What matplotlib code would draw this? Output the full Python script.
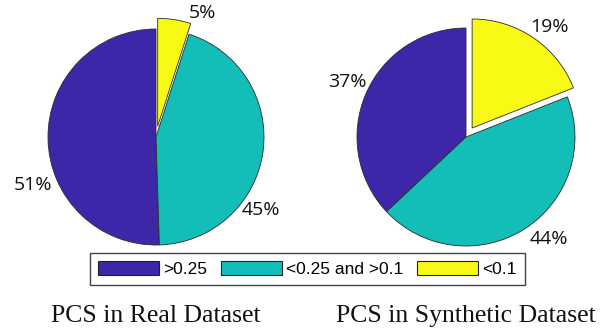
import matplotlib
matplotlib.use("Agg")
import matplotlib.pyplot as plt
from matplotlib.patches import Patch

# ---- data ----
categories = [">0.25", "<0.25 and >0.1", "<0.1"]
real_values = [51, 45, 5]
synthetic_values = [37, 44, 19]
titles = ["PCS in Real Dataset", "PCS in Synthetic Dataset"]

colors = ["#3E26A8", "#14BEB8", "#F8FA15"]
explode = [0, 0, 0.1]

W, H = 609, 335
fig = plt.figure(figsize=(W / 100, H / 100), dpi=100)

L = 1.35
# (center x px, center y px from top, radius px, label positions in radius units)
pies = [
    (156, 137, 108, real_values, [(-1.14, -0.44), (0.97, -0.68), (0.43, 1.15)]),
    (466, 137, 109, synthetic_values, [(-1.09, 0.50), (0.76, -0.94), (0.77, 1.01)]),
]

for (cx, cy, r, vals, lpos), title in zip(pies, titles):
    size = 2 * L * r
    ax = fig.add_axes([(cx - L * r) / W, (H - cy - L * r) / H, size / W, size / H])
    wedges, _ = ax.pie(vals, colors=colors, explode=explode, startangle=90,
                       counterclock=True,
                       wedgeprops=dict(edgecolor="#2a2a2a", linewidth=0.6))
    for v, (x, y) in zip(vals, lpos):
        ax.text(x, y, f"{v}%", ha="center", va="center",
                fontsize=14, family="Open Sans", color="#111111")
    ax.set_xlim(-L, L)
    ax.set_ylim(-L, L)
    ax.set_aspect("auto")
    ax.axis("off")
    fig.text(cx / W, (H - 316) / H, title, ha="center", va="center",
             fontsize=18.5, family="Liberation Serif", color="#111111")

handles = [Patch(facecolor=c, edgecolor="#222222", linewidth=0.8) for c in colors]
leg = fig.legend(handles, categories, loc="center", ncol=3,
                 bbox_to_anchor=(307.5 / W, (H - 269) / H),
                 prop=dict(family="Liberation Sans", size=12.5),
                 frameon=True, fancybox=False, framealpha=1,
                 edgecolor="#444444", handlelength=3.5, handleheight=0.86,
                 handletextpad=0.25, columnspacing=0.8, borderpad=0.45)
leg.get_frame().set_linewidth(1.0)

fig.savefig("out.png", dpi=100)
